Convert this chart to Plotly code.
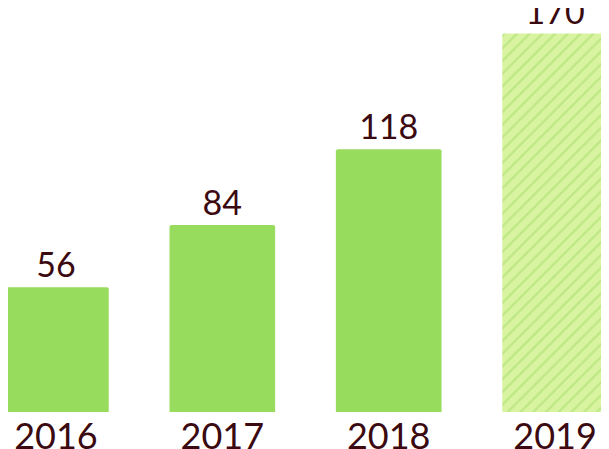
import plotly.graph_objects as go

years = ["2016", "2017", "2018", "2019"]
values = [56, 84, 118, 170]
xpos = [0, 1, 2, 3]

fig = go.Figure()
fig.add_trace(go.Bar(
    x=xpos[:3], y=values[:3], width=0.635,
    marker=dict(color="#97dc5d", line=dict(width=0), cornerradius=2),
    text=[str(v) for v in values[:3]], textposition="outside",
    textfont=dict(size=34, color="#3b0a10", family="Lato"), cliponaxis=False,
))
fig.add_trace(go.Bar(
    x=xpos[3:], y=values[3:], width=0.635,
    marker=dict(color="#d8f4a0", line=dict(width=0), cornerradius=2,
                pattern=dict(shape="/", fgcolor="#a3d96a", bgcolor="#d8f4a0", size=9, solidity=0.25)),
    text=[str(v) for v in values[3:]], textposition="outside",
    textfont=dict(size=34, color="#3b0a10", family="Lato"), cliponaxis=False,
))
fig.update_layout(
    width=609, height=449, margin=dict(l=0, r=0, t=0, b=41),
    plot_bgcolor="white", paper_bgcolor="white", showlegend=False,
    xaxis=dict(range=[-0.288, 3.372], tickvals=xpos, ticktext=years, showgrid=False,
               zeroline=False, tickfont=dict(size=36, color="#3b0a10", family="Lato"), ticklen=0),
    yaxis=dict(range=[0, 181.5], visible=False),
)
fig.write_html("out.html")
